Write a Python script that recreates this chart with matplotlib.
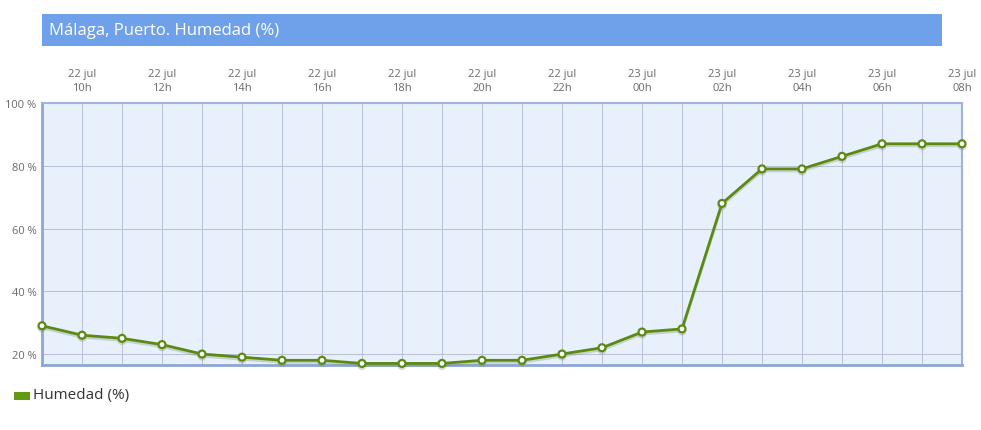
import matplotlib.pyplot as plt
import matplotlib.patheffects as pe
from matplotlib.patches import Rectangle

plt.rcParams['font.family'] = ['Open Sans', 'DejaVu Sans']

# hourly readings, 22 jul 09h -> 23 jul 08h
hours = ['09h', '10h', '11h', '12h', '13h', '14h', '15h', '16h', '17h', '18h', '19h', '20h',
         '21h', '22h', '23h', '00h', '01h', '02h', '03h', '04h', '05h', '06h', '07h', '08h']
days = ['22 jul'] * 15 + ['23 jul'] * 9
humedad = [29, 26, 25, 23, 20, 19, 18, 18, 17, 17, 17, 18,
           18, 20, 22, 27, 28, 68, 79, 79, 83, 87, 87, 87]
y_ticks = [20, 40, 60, 80, 100]

W, H = 981, 431
fig = plt.figure(figsize=(W / 100, H / 100), dpi=100)

def fx(px):
    return px / W

def fy(py):
    return 1 - py / H

ax = fig.add_axes([fx(42), fy(366), fx(962) - fx(42), fy(104) - fy(366)])
x = list(range(len(humedad)))

ax.set_facecolor('#e8f0fb')
ax.set_xlim(0, len(humedad) - 1)
ax.set_ylim(16.5, 100)

# grid
ax.set_xticks(x)
ax.set_yticks(y_ticks)
ax.grid(True, color='#b7c0d6', linewidth=0.7)
ax.set_axisbelow(True)
ax.tick_params(axis='x', which='both', length=0, labelbottom=False)
ax.tick_params(axis='y', length=0, labelsize=8, colors='#6a6a6a', pad=4)
ax.set_yticklabels([f'{v} %' for v in y_ticks])

# top labels at even hours
for i in range(1, len(humedad), 2):
    ax.text(i, 1.04, f'{days[i]}\n{hours[i]}', transform=ax.get_xaxis_transform(),
            ha='center', va='bottom', fontsize=8, color='#6a6a6a',
            linespacing=1.35, clip_on=False)

for side in ['left', 'bottom']:
    ax.spines[side].set_color('#8ea6d6')
    ax.spines[side].set_linewidth(2)
for side in ['top', 'right']:
    ax.spines[side].set_color('#9fb3dd')
    ax.spines[side].set_linewidth(1.5)

# line with soft shadow
ax.plot(x, humedad, color='#5b8a12', linewidth=2, marker='o', markersize=5,
        markerfacecolor='white', markeredgecolor='#5b8a12', markeredgewidth=1.6,
        clip_on=False, zorder=3,
        path_effects=[pe.SimpleLineShadow(offset=(0, -1.5), shadow_color='#7a8a60', alpha=0.3),
                      pe.Normal()])

# title bar
fig.patches.append(Rectangle((fx(42), fy(47)), fx(942) - fx(42), fy(15) - fy(47),
                             transform=fig.transFigure, facecolor='#6fa0ea', edgecolor='none'))
fig.text(fx(49), fy(31), 'Málaga, Puerto. Humedad (%)', color='white', fontsize=12,
         va='center', ha='left')

# legend
fig.patches.append(Rectangle((fx(14), fy(401)), fx(30) - fx(14), fy(393) - fy(401),
                             transform=fig.transFigure, facecolor='#639a14', edgecolor='none'))
fig.text(fx(33), fy(396), 'Humedad (%)', color='#333333', fontsize=11, va='center', ha='left')

fig.savefig('out.png', dpi=100)
